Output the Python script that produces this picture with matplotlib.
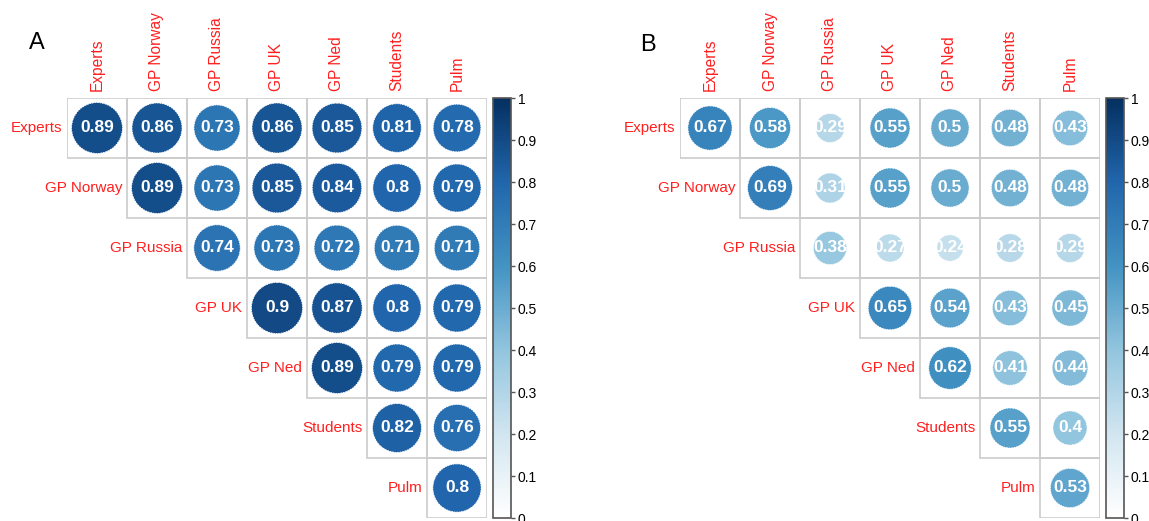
import numpy as np
import matplotlib
matplotlib.use("Agg")
import matplotlib.pyplot as plt
from matplotlib.patches import Circle, Rectangle
from matplotlib.colors import LinearSegmentedColormap, Normalize
import matplotlib.colorbar as mcolorbar

labels = ["Experts", "GP Norway", "GP Russia", "GP UK", "GP Ned", "Students", "Pulm"]

values_a = [
    [0.89, 0.86, 0.73, 0.86, 0.85, 0.81, 0.78],
    [0.89, 0.73, 0.85, 0.84, 0.8, 0.79],
    [0.74, 0.73, 0.72, 0.71, 0.71],
    [0.9, 0.87, 0.8, 0.79],
    [0.89, 0.79, 0.79],
    [0.82, 0.76],
    [0.8],
]
values_b = [
    [0.67, 0.58, 0.29, 0.55, 0.5, 0.48, 0.43],
    [0.69, 0.31, 0.55, 0.5, 0.48, 0.48],
    [0.38, 0.27, 0.24, 0.28, 0.29],
    [0.65, 0.54, 0.43, 0.45],
    [0.62, 0.41, 0.44],
    [0.55, 0.4],
    [0.53],
]
panel_titles = ["A", "B"]
cbar_ticks = [0, 0.1, 0.2, 0.3, 0.4, 0.5, 0.6, 0.7, 0.8, 0.9, 1]

cmap = LinearSegmentedColormap.from_list(
    "blues", ["#FFFFFF", "#D1E5F0", "#92C5DE", "#4393C3", "#2166AC", "#053061"])
norm = Normalize(0, 1)

W, H = 1149, 521
fig = plt.figure(figsize=(W / 100, H / 100), dpi=100)


def fx(px):
    return px / W


def fy(py):
    return 1 - py / H


def draw_panel(vals, left_px, cbar_px, title, title_pos):
    top_px, cell = 98, 60
    n = len(labels)
    ax = fig.add_axes([fx(left_px), fy(top_px + n * cell), fx(n * cell), n * cell / H])
    ax.set_xlim(0, n)
    ax.set_ylim(n, 0)
    ax.axis("off")
    for i in range(n):
        for k, v in enumerate(vals[i]):
            j = i + k
            ax.add_patch(Rectangle((j, i), 1, 1, fill=False, edgecolor="#CCCCCC", lw=1.2))
            r = 0.45 * np.sqrt(abs(v))
            c = Circle((j + 0.5, i + 0.5), r, facecolor=cmap(norm(v)),
                       edgecolor="white", lw=0.6, linestyle=(0, (2, 1)))
            ax.add_patch(c)
            t = ax.text(j + 0.5, i + 0.5, f"{v:g}", ha="center", va="center",
                        color="white", fontsize=12.5, fontweight="bold",
                        family="Liberation Sans")
            t.set_clip_path(c)
        # row label
        ax.text(i - 0.08, i + 0.5, labels[i], ha="right", va="center", color="#FF2020",
                fontsize=11, family="Liberation Sans", clip_on=False)
        # column label
        ax.text(i + 0.5, -0.12, labels[i], ha="center", va="bottom", rotation=90,
                color="#FF2020", fontsize=11.2, family="Liberation Sans", clip_on=False)
    fig.text(fx(title_pos[0]), fy(title_pos[1]), title, fontsize=17,
             family="Liberation Sans", ha="center", va="center")

    cax = fig.add_axes([fx(cbar_px), fy(top_px + n * cell), fx(18), n * cell / H])
    cb = mcolorbar.ColorbarBase(cax, cmap=cmap, norm=norm, orientation="vertical")
    cb.set_ticks(cbar_ticks)
    cb.set_ticklabels([f"{t:g}" for t in cbar_ticks])
    cb.outline.set_edgecolor("#555555")
    cb.outline.set_linewidth(1.2)
    cax.tick_params(length=3, width=1, color="#555555", labelsize=10, pad=2)
    for lbl in cax.get_yticklabels():
        lbl.set_family("Liberation Sans")


draw_panel(values_a, 67, 493, panel_titles[0], (37, 43))
draw_panel(values_b, 680, 1106, panel_titles[1], (648, 45))

fig.savefig("out.png", dpi=100, facecolor="white")
